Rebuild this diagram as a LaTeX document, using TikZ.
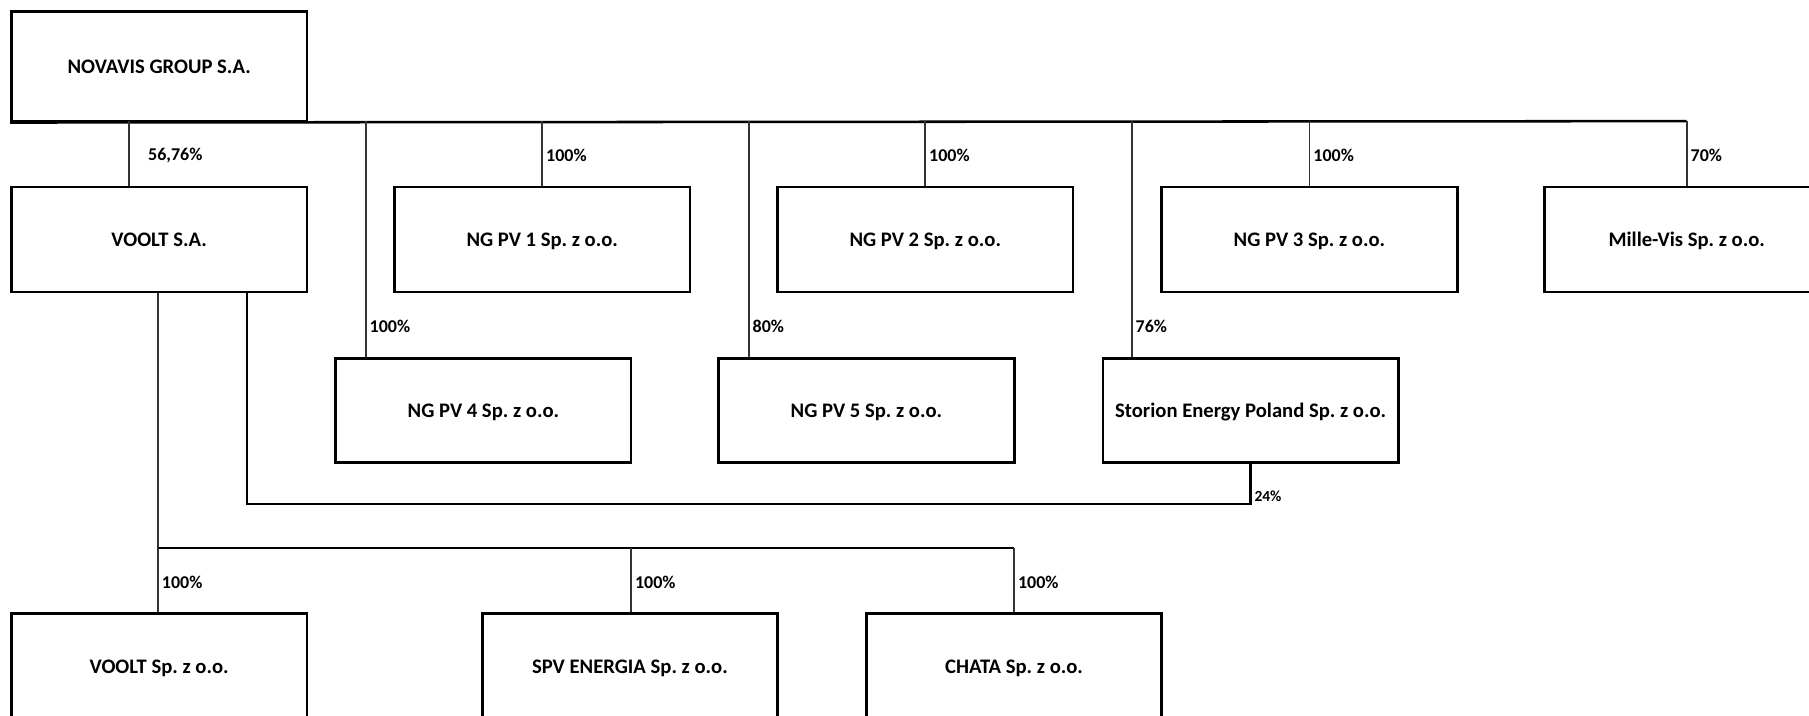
\documentclass[tikz,border=0pt]{standalone}
\usepackage{fontspec}
\setmainfont{Carlito}
\frenchspacing
\begin{document}
\frenchspacing
\begin{tikzpicture}[x=0.5pt,y=-0.5pt,
  box/.style={draw, line width=1.2pt, minimum width=128pt, minimum height=45.5pt, inner sep=0pt, text depth=0pt, font=\fontsize{8.95}{10}\selectfont\bfseries},
  conn/.style={line width=0.75pt, black!80},
  bus/.style={line width=1.1pt},
  pct/.style={anchor=west, inner sep=0pt, font=\fontsize{7.8}{9}\selectfont\bfseries},
  pctsmall/.style={pct, font=\fontsize{6.7}{8}\selectfont\bfseries}]
\useasboundingbox (0,0) rectangle (1568,620);
\clip (0,0) rectangle (1568,620);

% boxes
\node[box, minimum height=47.5pt] (nov) at (138,57.5) {NOVAVIS GROUP S.A.};
\node[box] (vsa) at (138,207.5) {VOOLT S.A.};
\node[box] (pv1) at (470,207.5) {NG PV 1 Sp. z o.o.};
\node[box] (pv2) at (802,207.5) {NG PV 2 Sp. z o.o.};
\node[box] (pv3) at (1135,207.5) {NG PV 3 Sp. z o.o.};
\node[box] (mil) at (1467,207.5) {\hspace*{-5pt}Mille-Vis Sp. z o.o.};
\node[box, minimum height=45pt] (pv4) at (419,356) {NG PV 4 Sp. z o.o.};
\node[box, minimum height=45pt] (pv5) at (751,356) {NG PV 5 Sp. z o.o.};
\node[box, minimum height=45pt] (sto) at (1084,356) {Storion Energy Poland Sp. z o.o.};
\node[box] (vsp) at (138,577.5) {VOOLT Sp. z o.o.};
\node[box] (spv) at (546,577.5) {SPV ENERGIA Sp. z o.o.};
\node[box] (cha) at (879,577.5) {CHATA Sp. z o.o.};

% top bus
\coordinate (b1) at (112,105);
\coordinate (b2) at (317,105);
\coordinate (b3) at (470,105);
\coordinate (b4) at (649,105);
\coordinate (b5) at (802,105);
\coordinate (b6) at (981,105);
\coordinate (b7) at (1135,105);
\coordinate (b8) at (1462,105);
\draw[bus] (nov.south west) -- (b8);
\draw[conn] (b1) -- (b1 |- vsa.north);
\draw[conn] (b2) -- (b2 |- pv4.north);
\draw[conn] (b3) -- (b3 |- pv1.north);
\draw[conn] (b4) -- (b4 |- pv5.north);
\draw[conn] (b5) -- (b5 |- pv2.north);
\draw[conn] (b6) -- (b6 |- sto.north);
\draw[conn] (b7) -- (b7 |- pv3.north);
\draw[conn] (b8) -- (b8 |- mil.north);

\node[pct] (l1) at (128,135) {56,76\%};
\node[pct] (l2) at (320,283) {100\%};
\node[pct] (l3) at (473,135) {100\%};
\node[pct] (l4) at (652,283) {80\%};
\node[pct] (l5) at (805,135) {100\%};
\node[pct] (l6) at (984,283) {76\%};
\node[pct] (l7) at (1138,135) {100\%};
\node[pct] (l8) at (1465,135) {70\%};

% VOOLT S.A. -> Storion 24%
\coordinate (c24) at (214,437);
\draw[bus] (c24 |- vsa.south) -- (c24) -- (c24 -| sto.south) -- (sto.south);
\node[pctsmall] (l24) at (1087,430) {24\%};

% lower bus
\coordinate (lb1) at (137,475);
\coordinate (lb2) at (547,475);
\coordinate (lb3) at (879,475);
\draw[conn] (lb1 |- vsa.south) -- (lb1);
\draw[bus] (lb1) -- (lb3);
\draw[conn] (lb1) -- (lb1 |- vsp.north);
\draw[conn] (lb2) -- (lb2 |- spv.north);
\draw[conn] (lb3) -- (lb3 |- cha.north);
\node[pct] (m1) at (140,505) {100\%};
\node[pct] (m2) at (550,505) {100\%};
\node[pct] (m3) at (882,505) {100\%};
\end{tikzpicture}
\end{document}
